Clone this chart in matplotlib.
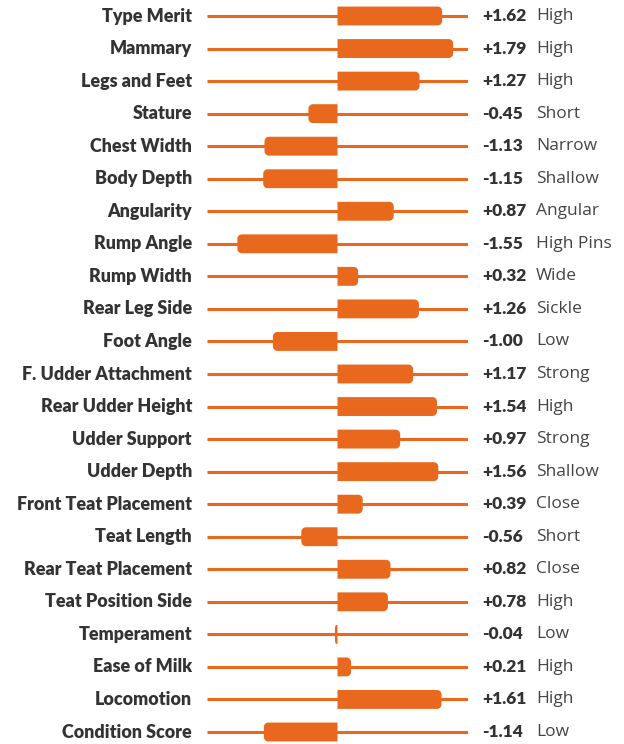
import numpy as np
import matplotlib.pyplot as plt
from matplotlib.patches import Polygon

traits = ["Type Merit", "Mammary", "Legs and Feet", "Stature", "Chest Width",
          "Body Depth", "Angularity", "Rump Angle", "Rump Width", "Rear Leg Side",
          "Foot Angle", "F. Udder Attachment", "Rear Udder Height", "Udder Support",
          "Udder Depth", "Front Teat Placement", "Teat Length", "Rear Teat Placement",
          "Teat Position Side", "Temperament", "Ease of Milk", "Locomotion",
          "Condition Score"]
values = [1.62, 1.79, 1.27, -0.45, -1.13, -1.15, 0.87, -1.55, 0.32, 1.26,
          -1.00, 1.17, 1.54, 0.97, 1.56, 0.39, -0.56, 0.82, 0.78, -0.04,
          0.21, 1.61, -1.14]
descriptors = ["High", "High", "High", "Short", "Narrow", "Shallow", "Angular",
               "High Pins", "Wide", "Sickle", "Low", "Strong", "High", "Strong",
               "Shallow", "Close", "Short", "Close", "High", "Low", "High", "High",
               "Low"]

orange = "#E8691E"
dark = "#333333"

W, H = 624, 744
fig = plt.figure(figsize=(W / 100, H / 100), dpi=100)
# axes spans the track line horizontally, full height vertically
x0, x1 = 207, 468
ax = fig.add_axes([x0 / W, 0, (x1 - x0) / W, 1])
lim = 2.02
ax.set_xlim(-lim, lim)
row_px = (731 - 15) / 22
ax.set_ylim(22 + (H - 732) / row_px, -16 / row_px)
ax.axis("off")

px_x = (x1 - x0) / (2 * lim)      # pixels per x unit
bh = 0.58
r_px = 4.5


def bar_shape(v, yc):
    # flat end at zero, rounded corners at the value end
    s = 1 if v >= 0 else -1
    w = abs(v)
    rx = min(r_px / px_x, w / 2)
    ry = min(r_px / row_px, bh / 2)
    top, bot = yc - bh / 2, yc + bh / 2
    ex = v - s * rx
    t = np.linspace(0, np.pi / 2, 12)
    pts = [(0, top)]
    for a in t:
        pts.append((ex + s * rx * np.sin(a), top + ry - ry * np.cos(a)))
    for a in t:
        pts.append((ex + s * rx * np.cos(a), bot - ry + ry * np.sin(a)))
    pts.append((0, bot))
    return pts


for i, (name, v, d) in enumerate(zip(traits, values, descriptors)):
    ax.plot([-lim, lim], [i, i], color=orange, lw=2.2, solid_capstyle="butt", zorder=1)
    ax.add_patch(Polygon(bar_shape(v, i), closed=True, fc=orange, ec="none", zorder=2))
    ax.text(-lim - 15 / px_x, i, name, ha="right", va="center", fontsize=12.9,
            fontweight="heavy", family="Lato", color=dark, clip_on=False)
    ax.text(lim + 14 / px_x, i, f"{v:+.2f}", ha="left", va="center", fontsize=12.5,
            fontweight="heavy", family="Lato", color=dark, clip_on=False)
    ax.text(lim + 68 / px_x, i, d, ha="left", va="center", fontsize=12.5,
            family="Open Sans", color="#444444", clip_on=False)

fig.savefig("out.png", dpi=100)
